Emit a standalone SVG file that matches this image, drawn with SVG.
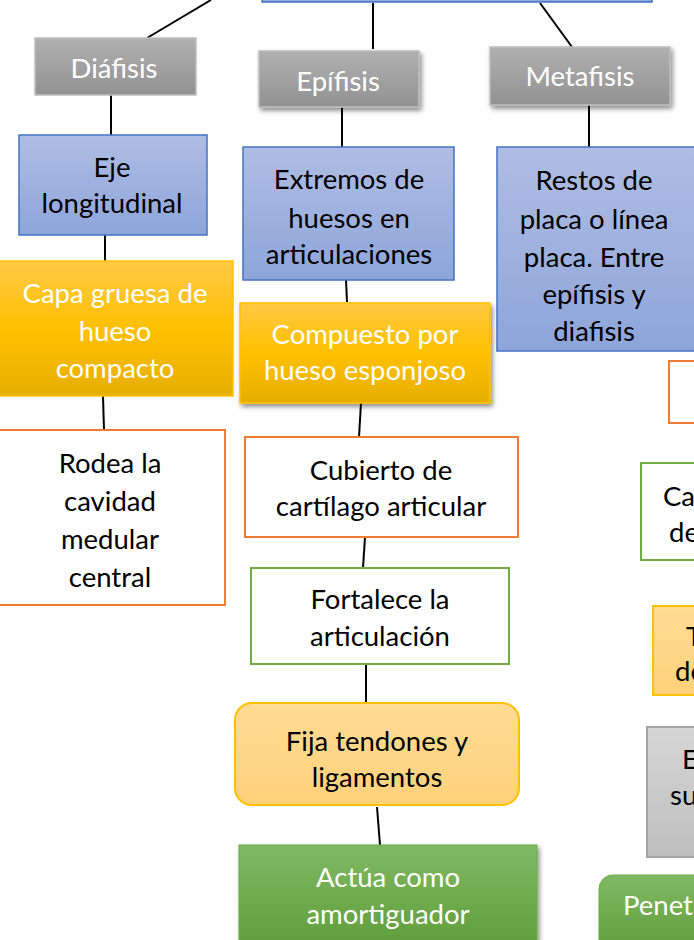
<svg xmlns="http://www.w3.org/2000/svg" width="694" height="940" viewBox="0 0 694 940">
<defs>
<linearGradient id="gGray" x1="0" y1="0" x2="0" y2="1"><stop offset="0" stop-color="#B0B0B0"/><stop offset="1" stop-color="#929292"/></linearGradient>
<linearGradient id="gBlue" x1="0" y1="0" x2="0" y2="1"><stop offset="0" stop-color="#AFBDE3"/><stop offset="1" stop-color="#8EA5DA"/></linearGradient>
<linearGradient id="gGold" x1="0" y1="0" x2="0" y2="1"><stop offset="0" stop-color="#FFC946"/><stop offset="0.5" stop-color="#FFC000"/><stop offset="1" stop-color="#E5AF00"/></linearGradient>
<linearGradient id="gLight" x1="0" y1="0" x2="0" y2="1"><stop offset="0" stop-color="#FFDC94"/><stop offset="1" stop-color="#FFD17A"/></linearGradient>
<linearGradient id="gGreen" x1="0" y1="0" x2="0" y2="1"><stop offset="0" stop-color="#80B964"/><stop offset="1" stop-color="#5E9C38"/></linearGradient>
<linearGradient id="gGrayL" x1="0" y1="0" x2="0" y2="1"><stop offset="0" stop-color="#D6D6D6"/><stop offset="1" stop-color="#BEBEBE"/></linearGradient>
<filter id="sh" x="-10%" y="-10%" width="125%" height="135%"><feDropShadow dx="2" dy="3" stdDeviation="2.5" flood-color="#000" flood-opacity="0.45"/></filter>
</defs>
<style>
text{font-family:Lato,"Open Sans","Liberation Sans",sans-serif;font-size:27.5px;text-anchor:middle;dominant-baseline:central;fill:#000}
.w{fill:#fff}
.st{text-anchor:start}
.gray{fill:url(#gGray);stroke:#BDBDBD;stroke-width:1.5}
.blue{fill:url(#gBlue);stroke:#4472C4;stroke-width:1.5}
.gold{fill:url(#gGold);stroke:#FFC000;stroke-width:1.5}
.orange{fill:#fff;stroke:#ED7D31;stroke-width:2}
.green{fill:#fff;stroke:#70AD47;stroke-width:2}
.light{fill:url(#gLight);stroke:#FFC000;stroke-width:2}
.gfill{fill:url(#gGreen);stroke:#6AAA45;stroke-width:1}
.grayl{fill:url(#gGrayL);stroke:#A5A5A5;stroke-width:2}
.c{stroke:#000;stroke-width:2;fill:none}
</style>
<g id="connectors">
<line class="c" x1="211" y1="0" x2="147" y2="38"/>
<line class="c" x1="373" y1="3" x2="373" y2="49"/>
<line class="c" x1="540" y1="3" x2="572" y2="47"/>
<line class="c" x1="111" y1="95" x2="111" y2="135"/>
<line class="c" x1="342" y1="107" x2="342" y2="147"/>
<line class="c" x1="589" y1="105" x2="589" y2="147"/>
<line class="c" x1="105" y1="235" x2="105" y2="261"/>
<line class="c" x1="346" y1="280" x2="347" y2="302"/>
<line class="c" x1="103" y1="396" x2="104" y2="430"/>
<line class="c" x1="361" y1="403" x2="359" y2="437"/>
<line class="c" x1="365" y1="537" x2="363" y2="568"/>
<line class="c" x1="366" y1="664" x2="366" y2="703"/>
<line class="c" x1="377" y1="807" x2="380" y2="845"/>
</g>
<g id="root"><rect class="blue" x="262" y="-20" width="390" height="22"/></g>
<g id="diafisis"><rect class="gray" x="35" y="38" width="161" height="57"/><text class="w" x="114" y="67">Diáfisis</text></g>
<g id="epifisis"><rect class="gray" x="259" y="51" width="160" height="56" filter="url(#sh)" stroke="none"/><text class="w" x="338" y="80">Epífisis</text></g>
<g id="metafisis"><rect class="gray" x="490" y="47" width="180" height="58" filter="url(#sh)" stroke="none"/><text class="w" x="580" y="75">Metafisis</text></g>
<g id="eje"><rect class="blue" x="19" y="135" width="188" height="100"/><text x="112" y="166">Eje</text><text x="112" y="202">longitudinal</text></g>
<g id="extremos"><rect class="blue" x="243" y="147" width="211" height="133"/><text x="349" y="178">Extremos de</text><text x="349" y="217">huesos en</text><text x="349" y="253">articulaciones</text></g>
<g id="restos"><rect class="blue" x="497" y="147" width="210" height="204"/><text x="594" y="179">Restos de</text><text x="594" y="218">placa o línea</text><text x="594" y="256">placa. Entre</text><text x="594" y="293">epífisis y</text><text x="594" y="330">diafisis</text></g>
<g id="capa"><rect class="gold" x="-2" y="261" width="235" height="135"/><text class="w" x="115" y="292">Capa gruesa de</text><text class="w" x="115" y="330">hueso</text><text class="w" x="115" y="367">compacto</text></g>
<g id="compuesto"><rect class="gold" x="240" y="303" width="250" height="100" filter="url(#sh)" stroke="none"/><text class="w" x="365" y="333">Compuesto por</text><text class="w" x="365" y="369">hueso esponjoso</text></g>
<g id="rodea"><rect class="orange" x="-5" y="430" width="230" height="175"/><text x="110" y="462">Rodea la</text><text x="110" y="500">cavidad</text><text x="110" y="538">medular</text><text x="110" y="576">central</text></g>
<g id="cubierto"><rect class="orange" x="245" y="437" width="273" height="100"/><text x="381" y="469">Cubierto de</text><text x="381" y="505">cartílago articular</text></g>
<g id="fortalece"><rect class="green" x="251" y="568" width="258" height="96"/><text x="380" y="598">Fortalece la</text><text x="380" y="635">articulación</text></g>
<g id="fija"><rect class="light" x="235" y="703" width="284" height="102" rx="17"/><text x="377" y="740">Fija tendones y</text><text x="377" y="776">ligamentos</text></g>
<g id="actua"><rect class="gfill" x="239" y="845" width="298" height="110" filter="url(#sh)"/><text class="w" x="388" y="876">Actúa como</text><text class="w" x="388" y="913">amortiguador</text></g>
<g id="r1"><rect class="orange" x="669" y="361" width="40" height="62"/></g>
<g id="r2"><rect class="green" x="641" y="463" width="70" height="97"/><text class="st" x="663" y="495">Ca</text><text class="st" x="669" y="531">de</text></g>
<g id="r3"><rect class="light" x="653" y="606" width="60" height="89" rx="0"/><text class="st" x="686" y="635">T</text><text class="st" x="675" y="670">de</text></g>
<g id="r4"><rect class="grayl" x="647" y="727" width="60" height="130"/><text class="st" x="682" y="758">E</text><text class="st" x="670" y="794">su</text></g>
<g id="r5"><rect class="gfill" x="599" y="875" width="120" height="80" rx="14"/><text class="w st" x="623" y="904">Penet</text></g>
</svg>
